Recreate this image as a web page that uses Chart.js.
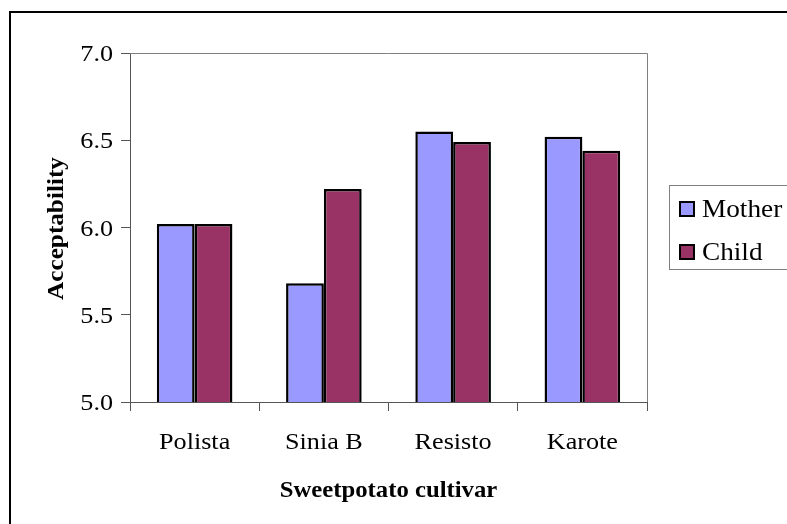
<!DOCTYPE html>
<html>
<head>
<meta charset="utf-8">
<script src="https://cdn.jsdelivr.net/npm/chart.js@4/dist/chart.umd.min.js"></script>
<style>
  html,body{margin:0;padding:0;background:#fff;overflow:hidden;}
  canvas{display:block;}
  .warm{position:absolute;left:-999px;top:0;font-family:"Liberation Serif";font-size:24px;}
</style>
</head>
<body>
<canvas id="acc" width="787" height="524"></canvas>
<div class="warm">Acceptability <b>Sweetpotato</b></div>
<script>
const cultivars = ['Polista', 'Sinia B', 'Resisto', 'Karote'];
const mother = [6.02, 5.68, 6.55, 6.52];
const child = [6.02, 6.22, 6.49, 6.44];
const xTitle = 'Sweetpotato cultivar';
const yTitle = 'Acceptability';

const SERIF = '"Liberation Serif", "Times New Roman", Tinos, serif';

// text drawn slightly wide, like the old office export
function wideText(ctx, s, x, y, align, sx){
  ctx.save();
  ctx.translate(x, y);
  ctx.scale(sx, 1);
  ctx.textAlign = align;
  ctx.textBaseline = 'alphabetic';
  ctx.fillText(s, 0, 0);
  ctx.restore();
}

const frame = {
  id: 'frame',
  beforeDraw(chart){
    const ctx = chart.ctx;
    ctx.save();
    ctx.fillStyle = '#fff';
    ctx.fillRect(0, 0, chart.width, chart.height);
    // outer border, cut at right/bottom
    ctx.fillStyle = '#000';
    ctx.fillRect(9, 11, chart.width, 2);
    ctx.fillRect(9, 11, 2, chart.height);
    ctx.restore();
  },
  afterDraw(chart){
    const ctx = chart.ctx, a = chart.chartArea;
    const xs = chart.scales.x, ys = chart.scales.y;
    ctx.save();
    // plot frame top + right
    ctx.strokeStyle = '#808080';
    ctx.lineWidth = 1;
    ctx.beginPath();
    ctx.moveTo(a.left, a.top + 0.5);
    ctx.lineTo(a.right + 0.5, a.top + 0.5);
    ctx.lineTo(a.right + 0.5, a.bottom);
    ctx.stroke();

    ctx.fillStyle = '#000';
    ctx.font = '24px ' + SERIF;
    ys.ticks.forEach(t => {
      wideText(ctx, t.value.toFixed(1), 113, ys.getPixelForValue(t.value) + 8, 'right', 1.09);
    });
    cultivars.forEach((c, i) => {
      wideText(ctx, c, xs.getPixelForValue(i), 449, 'center', 1.09);
    });

    ctx.font = 'bold 24px ' + SERIF;
    wideText(ctx, xTitle, (a.left + a.right) / 2, 497, 'center', 1.03);
    ctx.save();
    ctx.translate(63, (a.top + a.bottom) / 2 + 1);
    ctx.rotate(-Math.PI / 2);
    wideText(ctx, yTitle, 0, 0, 'center', 1.05);
    ctx.restore();

    // legend
    ctx.strokeStyle = '#808080';
    ctx.lineWidth = 1;
    ctx.strokeRect(669.5, 185.5, 140, 84);
    ctx.font = '25px ' + SERIF;
    const rows = [202, 245];
    chart.data.datasets.forEach((ds, i) => {
      const y = rows[i];
      ctx.fillStyle = ds.backgroundColor;
      ctx.fillRect(680, y, 14, 14);
      ctx.strokeStyle = '#000';
      ctx.lineWidth = 2;
      ctx.strokeRect(680, y, 14, 14);
      ctx.fillStyle = '#000';
      wideText(ctx, ds.label, 702, y + 15, 'left', 1.09);
    });
    ctx.restore();
  }
};

function draw(){
  new Chart(document.getElementById('acc'), {
    type: 'bar',
    data: {
      labels: cultivars,
      datasets: [
        {label: 'Mother', data: mother, backgroundColor: '#9999FF', borderColor: '#000', borderWidth: 2.5, borderSkipped: false},
        {label: 'Child', data: child, backgroundColor: '#993366', borderColor: '#000', borderWidth: 2.5, borderSkipped: false}
      ]
    },
    options: {
      responsive: false,
      animation: false,
      devicePixelRatio: 1,
      categoryPercentage: 0.585,
      barPercentage: 1.0,
      layout: {padding: {left: 121, right: 140, top: 53, bottom: 113}},
      plugins: {legend: {display: false}, tooltip: {enabled: false}},
      scales: {
        x: {
          grid: {offset: true, drawOnChartArea: false, drawTicks: true, tickLength: 9, color: '#555', lineWidth: 1},
          border: {color: '#555', width: 1},
          ticks: {display: false},
          afterFit(s){ s.height = 9; }
        },
        y: {
          min: 5, max: 7,
          ticks: {stepSize: 0.5, display: false},
          grid: {drawOnChartArea: false, drawTicks: true, tickLength: 9, color: '#555', lineWidth: 1},
          border: {color: '#555', width: 1},
          afterFit(s){ s.width = 9; }
        }
      }
    },
    plugins: [frame]
  });
}

Promise.all([
  document.fonts.load('24px "Liberation Serif"'),
  document.fonts.load('bold 24px "Liberation Serif"')
]).then(draw, draw);
</script>
</body>
</html>
